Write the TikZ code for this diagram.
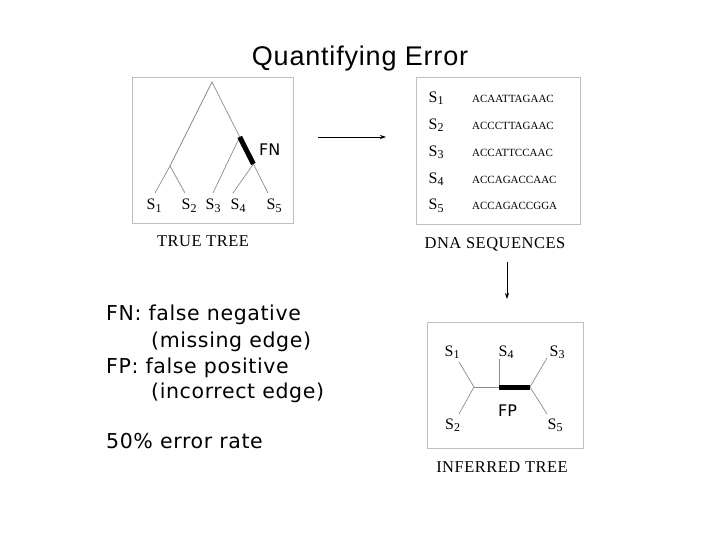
\documentclass[tikz,border=0pt]{standalone}
\usepackage{fontspec}
\setmainfont{Liberation Serif}
\newfontfamily\titlefont[LetterSpace=3]{Liberation Sans}
\newfontfamily\verd[LetterSpace=3]{DejaVu Sans}
\newfontfamily\flagfont{DejaVu Sans}
\newfontfamily\serifsp[LetterSpace=3]{Liberation Serif}
\usetikzlibrary{arrows.meta}
\newcommand\slab[1]{{\fontsize{16}{19}\selectfont S\raisebox{-2pt}{\fontsize{12}{14}\selectfont #1}}}
\begin{document}
\begin{tikzpicture}[x=1pt,y=-1pt,
  panel/.style={draw=black!25,line width=0.9pt},
  branch/.style={draw=black!45,line width=0.7pt},
  wrong/.style={draw=black,line width=5pt},
  leaf/.style={inner sep=0pt,anchor=base west},
  caption/.style={inner sep=0pt,anchor=base,font=\serifsp\fontsize{16.5}{20}\selectfont},
  seq/.style={inner sep=0pt,anchor=base west,font=\fontsize{11}{13}\selectfont},
  note/.style={inner sep=0pt,anchor=base west,font=\verd\fontsize{20.5}{24}\selectfont},
  flag/.style={inner sep=0pt,font=\flagfont\fontsize{16}{19}\selectfont},
  flow/.style={draw=black,line width=0.7pt,-{Stealth[length=6pt,width=4pt]}}]
\useasboundingbox (0,0) rectangle (720,540);
\fill[white] (0,0) rectangle (720,540);
% title
\node[inner sep=0pt,anchor=base,font=\titlefont\fontsize{27}{32}\selectfont] (title) at (360,66) {Quantifying Error};
% true tree panel
\draw[panel] (132,77) rectangle (293,223);
\coordinate (root) at (212,82);
\coordinate (n12) at (170,166);
\coordinate (l1) at (155,193);
\coordinate (l2) at (185,193);
\coordinate (nA) at (239.7,137);
\coordinate (l3) at (213,193);
\coordinate (nB) at (253.4,164);
\coordinate (l4) at (233,193);
\coordinate (l5) at (268,193);
\draw[branch] (l1) -- (n12) -- (root) -- (nA);
\draw[branch] (n12) -- (l2);
\draw[branch] (nA) -- (l3);
\draw[branch] (nB) -- (l4);
\draw[branch] (nB) -- (l5);
\draw[wrong] (nA) -- (nB);
\node[flag,anchor=west] (fn) at (259,150) {FN};
\node[leaf] (t1) at (146.5,210) {\slab{1}};
\node[leaf] (t2) at (181.5,210) {\slab{2}};
\node[leaf] (t3) at (205.5,210) {\slab{3}};
\node[leaf] (t4) at (230.5,210) {\slab{4}};
\node[leaf] (t5) at (266.5,210) {\slab{5}};
\node[caption] (truecap) at (203,246) {TRUE TREE};
% arrow to sequences
\coordinate (a1) at (318,137);
\coordinate (a2) at (386,137);
\draw[flow] (a1) -- (a2);
% DNA panel
\draw[panel] (416,77) rectangle (580,224);
\node[leaf] (d1) at (428.5,103) {\slab{1}};
\node[leaf] (d2) at (428.5,129.75) {\slab{2}};
\node[leaf] (d3) at (428.5,156.5) {\slab{3}};
\node[leaf] (d4) at (428.5,183.25) {\slab{4}};
\node[leaf] (d5) at (428.5,210) {\slab{5}};
\node[seq] (q1) at (472,103) {ACAATTAGAAC};
\node[seq] (q2) at (472,129.75) {ACCCTTAGAAC};
\node[seq] (q3) at (472,156.5) {ACCATTCCAAC};
\node[seq] (q4) at (472,183.25) {ACCAGACCAAC};
\node[seq] (q5) at (472,210) {ACCAGACCGGA};
\node[caption] (dnacap) at (495,248) {DNA SEQUENCES};
% arrow down
\coordinate (b1) at (507,262);
\coordinate (b2) at (507,299);
\draw[flow] (b1) -- (b2);
% inferred tree panel
\draw[panel] (427,322) rectangle (583,448);
\coordinate (m1) at (474,387);
\coordinate (m2) at (499,387);
\coordinate (m3) at (530,387);
\coordinate (e1) at (459,362);
\coordinate (e2) at (459,414);
\coordinate (e4) at (499,359);
\coordinate (e3) at (547,358);
\coordinate (e5) at (547,414);
\draw[branch] (e1) -- (m1) -- (e2);
\draw[branch] (m1) -- (m2);
\draw[branch] (m2) -- (e4);
\draw[branch] (e3) -- (m3) -- (e5);
\draw[wrong] (m2) -- (m3);
\node[leaf] (i1) at (444.5,356) {\slab{1}};
\node[leaf] (i4) at (498.5,356) {\slab{4}};
\node[leaf] (i3) at (549.5,356) {\slab{3}};
\node[leaf] (i2) at (445,429) {\slab{2}};
\node[leaf] (i5) at (547.5,429) {\slab{5}};
\node[flag] (fp) at (507.5,411) {FP};
\node[caption] (infcap) at (502,472) {INFERRED TREE};
% notes
\node[note] (n1) at (106,320.5) {FN: false negative};
\node[note] (n2) at (151,347) {(missing edge)};
\node[note] (n3) at (106,373) {FP: false positive};
\node[note] (n4) at (151,398.5) {(incorrect edge)};
\node[note] (n5) at (106,448) {50\% error rate};
\end{tikzpicture}
\end{document}
